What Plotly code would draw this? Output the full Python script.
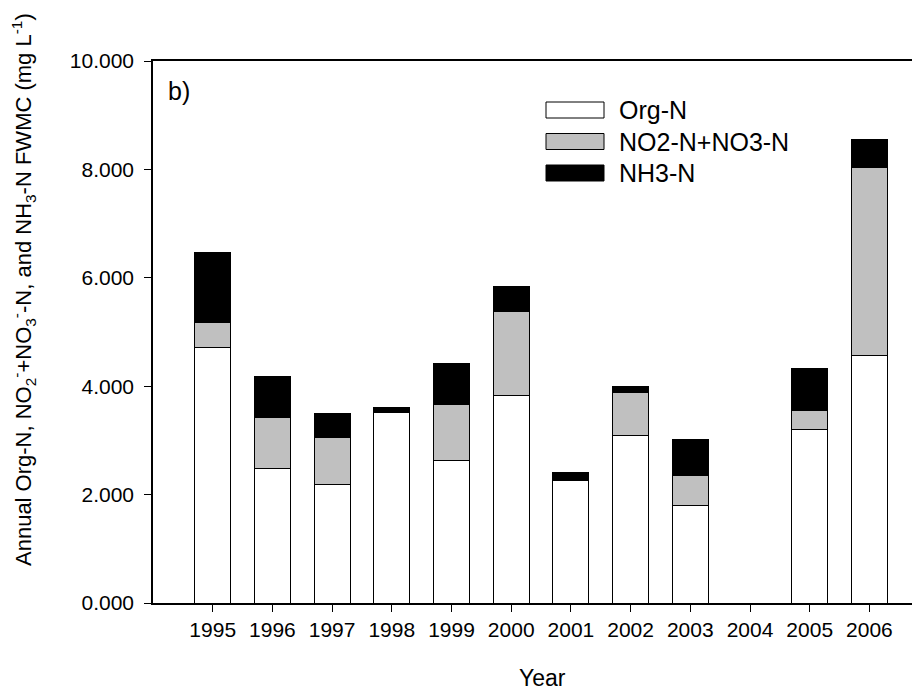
import plotly.graph_objects as go

years = [1995, 1996, 1997, 1998, 1999, 2000, 2001, 2002, 2003, 2004, 2005, 2006]
org_n = [4.72, 2.48, 2.18, 3.52, 2.63, 3.83, 2.26, 3.09, 1.80, None, 3.20, 4.56]
no2_no3_n = [0.45, 0.95, 0.88, 0.0, 1.04, 1.54, 0.0, 0.79, 0.55, None, 0.36, 3.47]
nh3_n = [1.29, 0.74, 0.43, 0.08, 0.74, 0.47, 0.14, 0.11, 0.67, None, 0.76, 0.53]
series_names = ["Org-N", "NO2-N+NO3-N", "NH3-N"]
series_colors = ["#ffffff", "#c0c0c0", "#000000"]
y_ticks = [0, 2, 4, 6, 8, 10]

# page has an 8px body margin: figure offset by 8px inside the window
OFF = 8
W, H = 912, 684
L, R, T, B = 145, 0, 53, 89
pw = W - L - R
ph = H - T - B
px_per_year = 59.7

def xp(sx):
    return (sx - OFF - L) / pw

def yp(sy):
    return (H - B - (sy - OFF)) / ph

FONT = "Liberation Sans, Arial, sans-serif"

fig = go.Figure()
for name, vals, col in zip(series_names, [org_n, no2_no3_n, nh3_n], series_colors):
    fig.add_trace(go.Bar(
        x=years, y=vals, name=name, width=0.6,
        marker=dict(color=col, line=dict(color="#000000", width=1)),
        showlegend=False,
    ))

# manual legend (wide swatches)
rows = [110, 141.5, 173]
for name, col, cy in zip(series_names, series_colors, rows):
    fig.add_shape(type="rect", xref="paper", yref="paper",
                  x0=xp(546), x1=xp(604), y0=yp(cy - 8), y1=yp(cy + 8),
                  fillcolor=col, line=dict(color="#000000", width=1))
    fig.add_annotation(x=xp(617), y=yp(cy), xref="paper", yref="paper",
                       text=name, showarrow=False, xanchor="left", yanchor="middle",
                       font=dict(family=FONT, size=25, color="#000000"))

fig.add_annotation(x=xp(166), y=yp(91), xref="paper", yref="paper", text="b)",
                   showarrow=False, xanchor="left", yanchor="middle",
                   font=dict(family=FONT, size=25, color="#000000"))

fig.add_annotation(x=xp(542), y=yp(678), xref="paper", yref="paper", text="Year",
                   showarrow=False, xanchor="center", yanchor="middle",
                   font=dict(family=FONT, size=23, color="#000000"))

ytitle = ("Annual Org-N, NO<sub>2</sub><sup>-</sup>+NO<sub>3</sub><sup>-</sup>-N, "
          "and NH<sub>3</sub>-N FWMC (mg L<sup>-1</sup>)")
fig.add_annotation(x=xp(23), y=yp(290), xref="paper", yref="paper", text=ytitle,
                   showarrow=False, xanchor="center", yanchor="middle", textangle=-90,
                   font=dict(family=FONT, size=22, color="#000000"))

fig.update_layout(
    width=W, height=H,
    margin=dict(l=L, r=R, t=T, b=B, pad=0),
    paper_bgcolor="#ffffff", plot_bgcolor="#ffffff",
    barmode="stack", bargap=0.4,
    font=dict(family=FONT, color="#000000"),
)
fig.update_xaxes(
    range=[1994, 1994 + pw / px_per_year],
    tickvals=years, ticktext=[str(y) for y in years],
    ticks="outside", ticklen=7, tickwidth=1, tickcolor="#000000",
    showline=True, linecolor="#000000", linewidth=1.5, mirror=True,
    showgrid=False, zeroline=False,
    tickfont=dict(family=FONT, size=21, color="#000000"),
)
fig.update_yaxes(
    range=[0, 10], tickvals=y_ticks, tickformat=".3f",
    ticks="outside", ticklen=7, tickwidth=1, tickcolor="#000000",
    showline=True, linecolor="#000000", linewidth=1.5,
    showgrid=False, zeroline=False, ticklabelstandoff=6,
    tickfont=dict(family=FONT, size=21, color="#000000"),
)

fig.write_html("out.html")
